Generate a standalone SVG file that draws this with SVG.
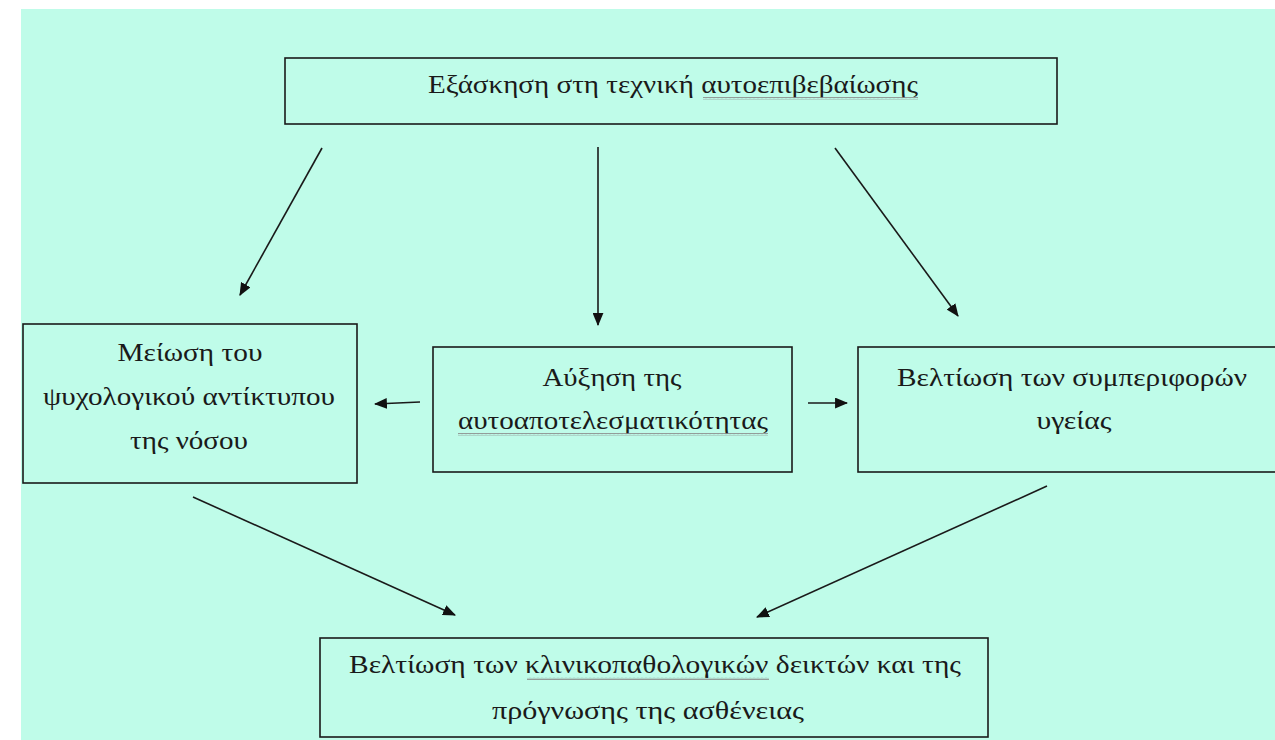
<svg xmlns="http://www.w3.org/2000/svg" width="1275" height="740" viewBox="0 0 1275 740">
<style>
.box{fill:#bffce9;stroke:#1a1a1a;stroke-width:1.6}
.t{font-family:"Liberation Serif","DejaVu Serif",serif;font-size:25px;fill:#1a1a1a;text-anchor:middle}
.c{stroke:#1a1a1a;stroke-width:1.6;fill:none;marker-end:url(#ah)}
</style>
<defs>
<marker id="ah" viewBox="0 0 12 10" refX="11" refY="5" markerWidth="13" markerHeight="11" markerUnits="userSpaceOnUse" orient="auto">
<path d="M0,0 L12,5 L0,10 Z" fill="#111"/>
</marker>
<pattern id="wave" width="4" height="3" patternUnits="userSpaceOnUse">
<path d="M0,2.2 L1,0.6 L2,2.2 L3,0.6 L4,2.2" stroke="#8a8a8a" stroke-width="0.9" fill="none"/>
</pattern>
</defs>
<rect x="0" y="0" width="1275" height="740" fill="#ffffff"/>
<rect x="21" y="9" width="1254" height="731" fill="#bffce9"/>
<g id="n-top">
<rect class="box" x="285" y="58" width="772" height="66"/>
<text class="t" x="673" y="93" textLength="490" lengthAdjust="spacingAndGlyphs">Εξάσκηση στη τεχνική αυτοεπιβεβαίωσης</text>
<rect x="703" y="97" width="215" height="3" fill="url(#wave)"/>
</g>
<g id="n-left">
<rect class="box" x="23" y="324" width="334" height="159"/>
<text class="t" x="190" y="361" textLength="145" lengthAdjust="spacingAndGlyphs">Μείωση του</text>
<text class="t" x="189" y="405" textLength="292" lengthAdjust="spacingAndGlyphs">ψυχολογικού αντίκτυπου</text>
<text class="t" x="189" y="449" textLength="118" lengthAdjust="spacingAndGlyphs">της νόσου</text>
</g>
<g id="n-mid">
<rect class="box" x="433" y="347" width="359" height="125"/>
<text class="t" x="612" y="386" textLength="139" lengthAdjust="spacingAndGlyphs">Αύξηση της</text>
<text class="t" x="613" y="429" textLength="310" lengthAdjust="spacingAndGlyphs">αυτοαποτελεσματικότητας</text>
<rect x="458" y="433" width="310" height="3" fill="url(#wave)"/>
</g>
<g id="n-right">
<rect class="box" x="858" y="347" width="425" height="125"/>
<text class="t" x="1072" y="386" textLength="350" lengthAdjust="spacingAndGlyphs">Βελτίωση των συμπεριφορών</text>
<text class="t" x="1074" y="429" textLength="75" lengthAdjust="spacingAndGlyphs">υγείας</text>
</g>
<g id="n-bottom">
<rect class="box" x="320" y="638" width="668" height="99"/>
<text class="t" x="655" y="673" textLength="612" lengthAdjust="spacingAndGlyphs">Βελτίωση των κλινικοπαθολογικών δεικτών και της</text>
<text class="t" x="648" y="719" textLength="312" lengthAdjust="spacingAndGlyphs">πρόγνωσης της ασθένειας</text>
<rect x="527" y="677" width="242" height="3" fill="url(#wave)"/>
</g>
<g id="connectors">
<line class="c" x1="322" y1="148" x2="240" y2="295"/>
<line class="c" x1="598" y1="147" x2="598" y2="325"/>
<line class="c" x1="835" y1="148" x2="958" y2="316"/>
<line class="c" x1="420" y1="402" x2="375" y2="404"/>
<line class="c" x1="808" y1="403" x2="847" y2="403"/>
<line class="c" x1="193" y1="497" x2="455" y2="615"/>
<line class="c" x1="1047" y1="486" x2="757" y2="617"/>
</g>
</svg>
